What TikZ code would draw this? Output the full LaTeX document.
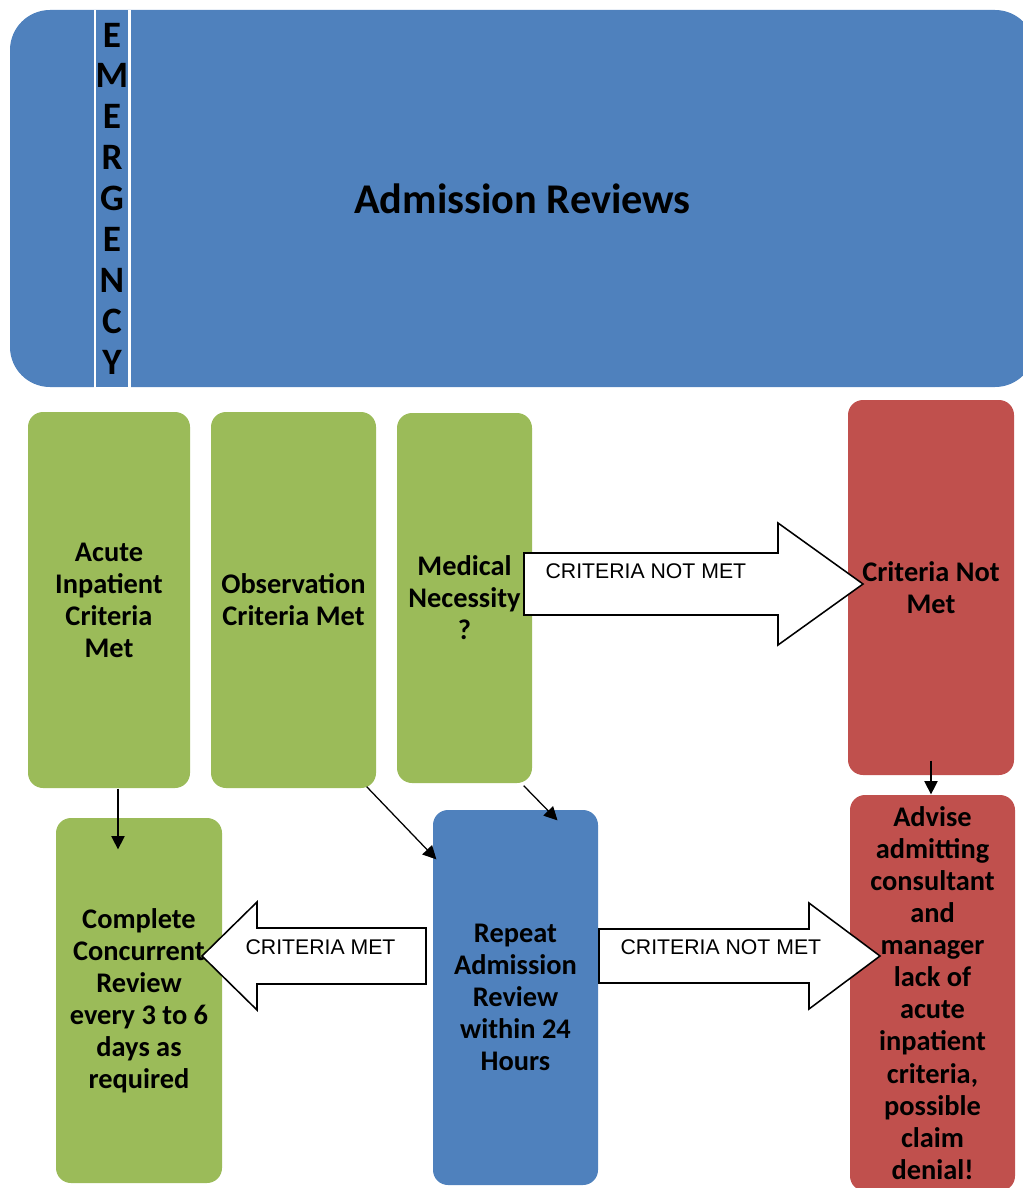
\documentclass[tikz,border=0pt]{standalone}
\usepackage{fontspec}
\setmainfont{Carlito}
\newfontfamily\labfont{Liberation Sans}
\usetikzlibrary{arrows.meta, calc}
\definecolor{bluec}{HTML}{4F81BD}
\definecolor{greenc}{HTML}{9BBB59}
\definecolor{redc}{HTML}{C0504D}
% fat outlined arrow: tail x, head base x, tip x, centre y, shaft half, head half
\newcommand{\fatarrow}[6]{%
  \draw[fatarr] (#1,#4-#5) -- (#2,#4-#5) -- (#2,#4-#6) -- (#3,#4)
    -- (#2,#4+#6) -- (#2,#4+#5) -- (#1,#4+#5) -- cycle;
}
\tikzset{
  sz/.style 2 args={minimum width=#1*0.025cm, minimum height=#2*0.025cm},
  card/.style={rectangle, rounded corners=0.375cm, inner sep=0pt,
               align=center, font=\bfseries\fontsize{20.2}{22.8}\selectfont},
  gbox/.style={card, fill=greenc},
  rbox/.style={card, fill=redc},
  bbox/.style={card, fill=bluec},
  fatarr/.style={draw=black, fill=white, line width=1.1pt, line join=miter},
  lab/.style={font=\labfont\fontsize{15.1}{18}\selectfont, inner sep=0pt,
              anchor=base west},
}

\begin{document}
\begin{tikzpicture}[x=0.025cm, y=-0.025cm, line width=0.9pt,
    >={Triangle[length=9.5pt, width=9.5pt]}]
  \useasboundingbox (0,0) rectangle (1022,1188);
  % header
  \node[rectangle, fill=bluec, rounded corners=1cm, sz={1025}{377},
        font=\bfseries\fontsize{30.1}{34}\selectfont] (hdr) at (522.5,198.5)
        {Admission Reviews};
  \fill[white] (94,10) rectangle (131,388);
  \node[rectangle, fill=bluec, sz={26}{377}, inner sep=0pt, align=center,
        font=\bfseries\fontsize{26.5}{29.06}\selectfont] (emerg) at (112,198.5)
        {E\\M\\E\\R\\G\\E\\N\\C\\Y};
  % first row
  \node[gbox, sz={162}{376}] (acute) at (109,600) {Acute\\Inpatient\\Criteria\\Met};
  \node[gbox, sz={165}{376}] (obs) at (293.5,600) {Observation\\Criteria Met};
  \node[gbox, sz={135}{370}] (med) at (464.5,598) {Medical\\Necessity\\?};
  \node[rbox, sz={166}{375}] (cnm) at (931,587.5) {Criteria Not\\Met};
  % second row
  \node[gbox, sz={166}{365}] (compl) at (139,1000.5)
    {Complete\\Concurrent\\Review\\every 3 to 6\\days as\\required};
  \node[bbox, sz={165}{375}] (rep) at (515.5,997.5)
    {Repeat\\Admission\\Review\\within 24\\Hours};
  \node[rbox, sz={165}{396}] (adv) at (932.5,993)
    {Advise\\admitting\\consultant\\and\\manager\\lack of\\acute\\inpatient\\criteria,\\possible\\claim\\denial!};
  % fat arrows
  \fatarrow{524}{778}{863}{584}{31}{61}
  \fatarrow{426}{257}{202}{956}{28}{54}
  \fatarrow{599}{809}{880}{956}{27}{53}
  \node[lab] (nm1) at (545,578) {CRITERIA NOT MET};
  \node[lab] (met) at (245,954) {CRITERIA MET};
  \node[lab] (nm2) at (620,954) {CRITERIA NOT MET};
  % thin arrows
  \draw[->] ($(acute.south)+(9,0)$) -- ($(compl.north)+(-21,32)$);
  \draw[->] ($(obs.south east)+(-10,-2)$) -- ($(rep.north west)+(4,50)$);
  \draw[->] ($(med.south east)+(-9,2)$) -- ($(rep.north)+(42,11)$);
  \draw[->] ($(cnm.south)+(0,-15)$) -- (cnm.south |- adv.north);
\end{tikzpicture}
\end{document}
